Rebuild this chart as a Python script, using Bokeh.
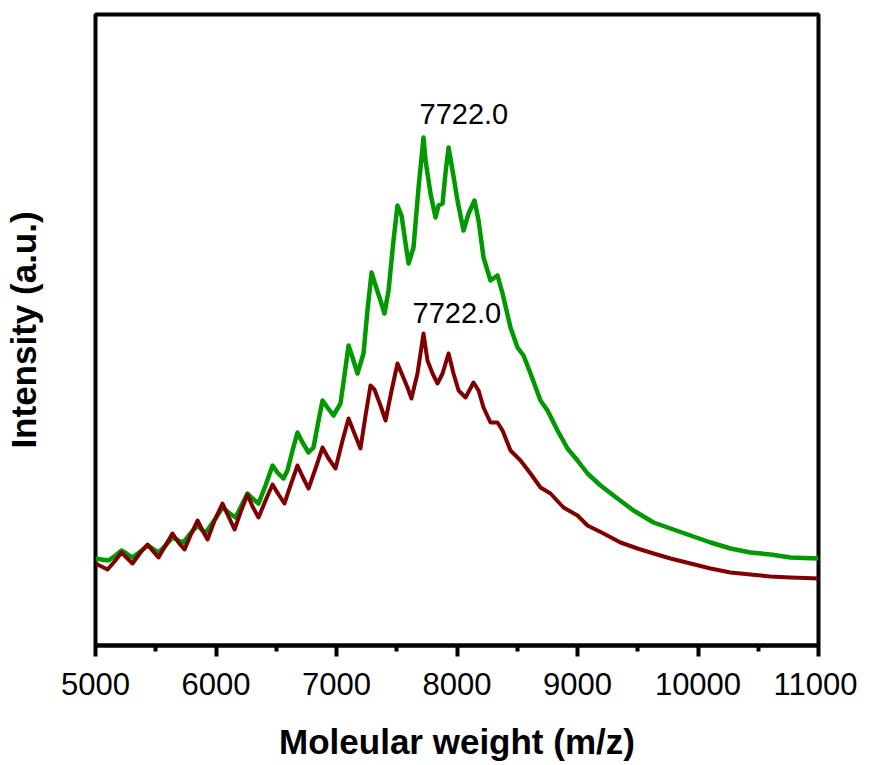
from bokeh.plotting import figure
from bokeh.models import Range1d, FixedTicker
from bokeh.core.properties import value
from bokeh.embed import file_html
from bokeh.resources import INLINE

# ---- data (m/z, intensity in arbitrary units) ----
green_mz = [5000, 5050, 5108, 5166, 5216, 5257, 5307, 5373, 5432, 5473, 5523, 5581,
            5639, 5689, 5730, 5788, 5847, 5880, 5913, 5938, 5996, 6054, 6104, 6162,
            6212, 6261, 6303, 6353, 6411, 6469, 6510, 6560, 6593, 6635, 6676, 6718,
            6768, 6809, 6851, 6884, 6925, 6975, 7033, 7066, 7100, 7133, 7174, 7224,
            7257, 7291, 7324, 7365, 7398, 7432, 7473, 7506, 7540, 7573, 7598, 7639,
            7681, 7722, 7739, 7780, 7822, 7847, 7880, 7905, 7930, 7963, 8004, 8054,
            8096, 8145, 8179, 8220, 8278, 8336, 8378, 8444, 8502, 8552, 8610, 8693,
            8751, 8834, 8917, 9000, 9083, 9191, 9332, 9465, 9631, 9772, 9938, 10104,
            10270, 10436, 10602, 10768, 11000]
green_int = [87, 86, 85, 90, 95, 92, 88, 94, 100, 97, 93, 100,
             108, 105, 103, 112, 120, 116, 113, 117, 127, 138, 133, 128,
             140, 152, 147, 142, 160, 180, 173, 167, 175, 195, 213, 203,
             193, 198, 225, 245, 238, 230, 242, 270, 300, 288, 272, 292,
             335, 373, 360, 345, 332, 355, 405, 440, 430, 402, 382, 398,
             458, 508, 485, 452, 428, 440, 442, 473, 498, 475, 445, 415,
             432, 445, 425, 388, 365, 370, 352, 318, 298, 290, 272, 245,
             235, 215, 197, 185, 172, 160, 147, 135, 123, 117, 110, 103,
             97, 93, 91, 88, 87]

red_mz = [5000, 5050, 5100, 5158, 5216, 5257, 5307, 5373, 5432, 5473, 5523, 5581,
          5639, 5689, 5739, 5788, 5847, 5888, 5930, 5988, 6054, 6104, 6154, 6203,
          6261, 6303, 6353, 6411, 6469, 6519, 6568, 6618, 6676, 6718, 6768, 6826,
          6884, 6934, 6992, 7050, 7100, 7149, 7199, 7241, 7282, 7315, 7365, 7407,
          7457, 7506, 7548, 7589, 7622, 7672, 7722, 7755, 7797, 7838, 7880, 7930,
          7971, 8013, 8071, 8137, 8179, 8220, 8278, 8336, 8378, 8444, 8527, 8610,
          8693, 8776, 8884, 9000, 9083, 9216, 9357, 9498, 9631, 9772, 9938, 10104,
          10270, 10436, 10602, 10768, 11000]
red_int = [82, 79, 76, 84, 93, 88, 82, 93, 101, 95, 88, 100,
           112, 103, 96, 110, 125, 115, 106, 125, 142, 129, 116, 133,
           151, 139, 128, 145, 161, 151, 142, 160, 180, 169, 157, 177,
           198, 187, 177, 205, 227, 212, 197, 230, 260, 256, 240, 225,
           255, 282, 270, 258, 247, 272, 312, 285, 272, 262, 272, 292,
           272, 255, 248, 263, 255, 238, 223, 223, 215, 195, 185, 172,
           158, 152, 138, 130, 120, 112, 103, 97, 92, 87, 82, 77,
           73, 71, 69, 68, 67]

x_ticks = [5000, 6000, 7000, 8000, 9000, 10000, 11000]
x_minor = [5500, 6500, 7500, 8500, 9500, 10500]
peak_label = "7722.0"
peak_mz = 7722
green_peak = 508
red_peak = 312

FONT = "Liberation Sans"

p = figure(width=857, height=765, output_backend="svg", toolbar_location=None,
           x_range=Range1d(5000, 11000), y_range=Range1d(0, 631),
           min_border_left=95, min_border_right=39, min_border_top=14,
           min_border_bottom=120)
p.background_fill_color = "white"
p.border_fill_color = "white"
p.outline_line_color = "black"
p.outline_line_width = 4
p.xgrid.visible = False
p.ygrid.visible = False

p.line(green_mz, green_int, line_color="#009900", line_width=4.5, line_join="round")
p.line(red_mz, red_int, line_color="#800000", line_width=4, line_join="round")

p.text(x=[peak_mz], y=[green_peak], text=[peak_label], x_offset=-4, y_offset=-24,
       text_align="left", text_baseline="alphabetic", text_font=value(FONT),
       text_font_size="29px", text_color="black")
p.text(x=[peak_mz], y=[red_peak], text=[peak_label], x_offset=-11, y_offset=-21,
       text_align="left", text_baseline="alphabetic", text_font=value(FONT),
       text_font_size="29px", text_color="black")

xa = p.xaxis[0]
xa.ticker = FixedTicker(ticks=x_ticks, minor_ticks=x_minor)
xa.axis_line_width = 4
xa.major_tick_line_width = 4
xa.minor_tick_line_width = 4
xa.major_tick_in = 0
xa.major_tick_out = 11
xa.minor_tick_in = 0
xa.minor_tick_out = 6
xa.major_label_text_font = FONT
xa.major_label_text_font_size = "31px"
xa.major_label_text_color = "black"
xa.major_label_standoff = 16
xa.axis_label = "Moleular weight (m/z)"
xa.axis_label_text_font = FONT
xa.axis_label_text_font_size = "35px"
xa.axis_label_text_font_style = "bold"
xa.axis_label_text_color = "black"
xa.axis_label_standoff = 24

ya = p.yaxis[0]
ya.ticker = FixedTicker(ticks=[])
ya.axis_line_color = None
ya.major_tick_line_color = None
ya.minor_tick_line_color = None
ya.major_label_text_font_size = "0px"
ya.axis_label = "Intensity (a.u.)"
ya.axis_label_text_font = FONT
ya.axis_label_text_font_size = "35px"
ya.axis_label_text_font_style = "bold"
ya.axis_label_text_color = "black"
ya.axis_label_standoff = 53

open("out.html", "w").write(file_html(p, INLINE))
